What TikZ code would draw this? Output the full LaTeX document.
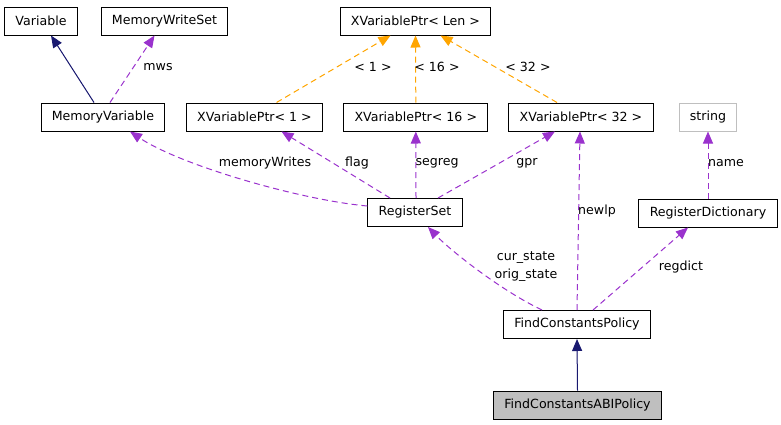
\documentclass[tikz,border=0pt]{standalone}
\usepackage{fontspec}
\setmainfont{DejaVu Sans}
\usetikzlibrary{arrows.meta}

\definecolor{edgeblue}{HTML}{191970}
\definecolor{edgepurple}{HTML}{9A32CD}
\definecolor{edgeorange}{HTML}{FFA500}
\definecolor{boxgray}{HTML}{BFBFBF}

\tikzset{
    cls/.style={draw=black, line width=1pt, inner xsep=10.8pt, inner ysep=0pt,
            minimum height=28pt, font=\fontsize{12.6}{18}\selectfont},
    lbl/.style={inner sep=0pt, font=\fontsize{12.6}{18}\selectfont, align=center},
    tip/.style={-{Triangle[length=12pt, width=10pt]}},
    inherit/.style={tip, draw=edgeblue, fill=edgeblue, line width=1pt},
    usage/.style={tip, draw=edgepurple, line width=1pt, dash pattern=on 6pt off 4pt},
    templ/.style={tip, draw=edgeorange, line width=1pt, dash pattern=on 6pt off 4pt}
}

\begin{document}
\begin{tikzpicture}[x=1pt, y=-1pt]
        \useasboundingbox (0, 0) rectangle (781, 424);

        % Draw the classes
        \node[cls] (variable) at (41, 21) {Variable};
        \node[cls] (mws) at (164.5, 21) {MemoryWriteSet};
        \node[cls] (xlen) at (415.5, 21) {XVariablePtr< Len >};
        \node[cls] (memvar) at (103, 117) {MemoryVariable};
        \node[cls] (xone) at (254.5, 117) {XVariablePtr< 1 >};
        \node[cls] (xsixteen) at (415.8, 117) {XVariablePtr< 16 >};
        \node[cls] (xthirtytwo) at (581, 117) {XVariablePtr< 32 >};
        \node[cls, draw=boxgray] (string) at (708, 117) {string};
        \node[cls] (regset) at (415, 212.5) {RegisterSet};
        \node[cls] (regdict) at (708, 213) {RegisterDictionary};
        \node[cls] (fcp) at (577, 324.5) {FindConstantsPolicy};
        \node[cls, fill=boxgray] (fcabi) at (577.5, 405) {FindConstantsABIPolicy};

        % Draw the inheritance arrows
        \draw[inherit] ([xshift=-9pt]memvar.north) -- ([xshift=10pt]variable.south);
        \draw[inherit] (fcabi.north) -- (fcp.south);

        % Draw the template arrows
        \draw[templ] ([xshift=22pt]xone.north) -- ([xshift=-25pt]xlen.south);
        \draw[templ] (xsixteen.north) -- (xlen.south);
        \draw[templ] ([xshift=-24pt]xthirtytwo.north) -- ([xshift=25pt]xlen.south);

        % Draw the usage arrows
        \draw[usage] ([xshift=7pt]memvar.north) -- ([xshift=-10pt]mws.south);
        \draw[usage] ([yshift=6.5pt]regset.west) .. controls (300, 200) and (180, 165) .. ([xshift=27pt]memvar.south);
        \draw[usage] ([xshift=-25pt]regset.north) -- ([xshift=27pt]xone.south);
        \draw[usage] ([xshift=1pt]regset.north) -- (xsixteen.south);
        \draw[usage] ([xshift=23pt]regset.north) -- ([xshift=-26pt]xthirtytwo.south);
        \draw[usage] (fcp.north) -- ([xshift=-1pt]xthirtytwo.south);
        \draw[usage] (regdict.north) -- (string.south);
        \draw[usage] ([xshift=-35pt]fcp.north) .. controls (500, 290) and (450, 250) .. ([xshift=13pt]regset.south);
        \draw[usage] ([xshift=16pt]fcp.north) -- ([xshift=-20pt]regdict.south);

        % Label the arrows
        \node[lbl] (lmws) at (158, 67) {mws};
        \node[lbl] (lone) at (373, 67) {< 1 >};
        \node[lbl] (lsixteen) at (437, 67) {< 16 >};
        \node[lbl] (lthirtytwo) at (528, 67) {< 32 >};
        \node[lbl] (lmemwrites) at (265, 163) {memoryWrites};
        \node[lbl] (lflag) at (357, 163) {flag};
        \node[lbl] (lsegreg) at (437, 163) {segreg};
        \node[lbl] (lgpr) at (527, 163) {gpr};
        \node[lbl] (lname) at (726, 163) {name};
        \node[lbl] (lnewlp) at (597, 211) {newlp};
        \node[lbl] (lstate) at (526, 267) {cur\_state\\orig\_state};
        \node[lbl] (lregdict) at (681, 267) {regdict};
    \end{tikzpicture}
\end{document}
